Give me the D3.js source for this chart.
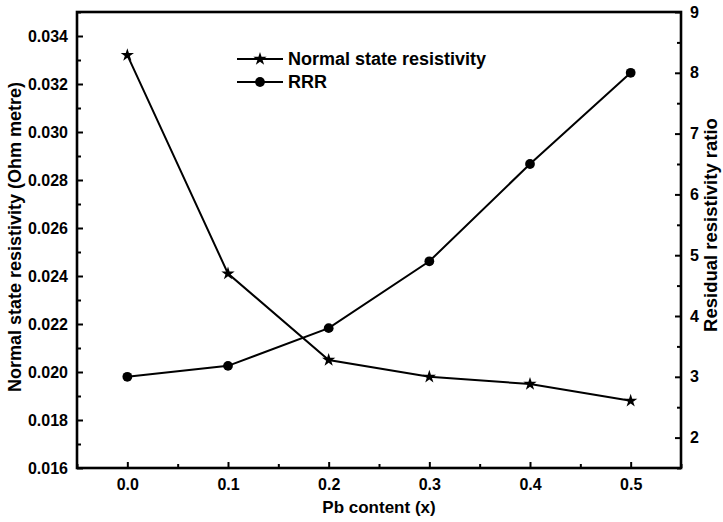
<!DOCTYPE html>
<html>
<head>
<meta charset="utf-8">
<script src="https://cdn.jsdelivr.net/npm/d3@7/dist/d3.min.js"></script>
<style>
  html, body { margin: 0; padding: 0; background: #fff; }
  svg text { font-family: "Liberation Sans", Arial, sans-serif; font-weight: bold; fill: #000; }
</style>
</head>
<body>
<svg id="chart" width="723" height="522"></svg>
<script>
// Pb content (x) and the two measured quantities
const pbContent = [0.0, 0.1, 0.2, 0.3, 0.4, 0.5];
const resistivity = [0.0332, 0.0241, 0.0205, 0.0198, 0.0195, 0.0188];   // Ohm metre
const rrr = [3.0, 3.18, 3.8, 4.9, 6.5, 8.0];                              // residual resistivity ratio

const xTicks = [0.0, 0.1, 0.2, 0.3, 0.4, 0.5];
const leftTicks = [0.016, 0.018, 0.020, 0.022, 0.024, 0.026, 0.028, 0.030, 0.032, 0.034];
const rightTicks = [2, 3, 4, 5, 6, 7, 8, 9];

const seriesNames = ["Normal state resistivity", "RRR"];

const svg = d3.select("#chart");
const m = { left: 77, right: 681, top: 12, bottom: 468 };

const x = d3.scaleLinear().domain([-0.05, 0.55]).range([m.left, m.right]);
const yL = d3.scaleLinear().domain([0.016, 0.035]).range([m.bottom, m.top]);
const yR = d3.scaleLinear().domain([1.5, 9]).range([m.bottom, m.top]);

// minor tick positions halfway between labelled ticks
const xMinor = d3.range(-0.05, 0.551, 0.05).map(v => +v.toFixed(3)).filter(v => !xTicks.some(t => Math.abs(t - v) < 1e-6));
const lMinor = d3.range(0.017, 0.0351, 0.002).map(v => +v.toFixed(4));
const rMinor = d3.range(1.5, 9, 1).map(v => +v.toFixed(2));

function styleAxis(g) {
  g.select(".domain").remove();
  g.selectAll(".tick line").attr("stroke", "#000").attr("stroke-width", 2);
  g.selectAll(".tick text").style("font-size", "16px");
}

// bottom axis: ticks point into the plot
svg.append("g").attr("transform", `translate(0,${m.bottom})`)
  .call(d3.axisBottom(x).tickValues(xTicks).tickFormat(d3.format(".1f")).tickSizeInner(-6).tickSizeOuter(0).tickPadding(11))
  .call(styleAxis);
svg.append("g").attr("transform", `translate(0,${m.bottom})`)
  .call(d3.axisBottom(x).tickValues(xMinor).tickFormat("").tickSizeInner(-4).tickSizeOuter(0))
  .call(styleAxis);

// left axis
svg.append("g").attr("transform", `translate(${m.left},0)`)
  .call(d3.axisLeft(yL).tickValues(leftTicks).tickFormat(d3.format(".3f")).tickSizeInner(-6).tickSizeOuter(0).tickPadding(9))
  .call(styleAxis);
svg.append("g").attr("transform", `translate(${m.left},0)`)
  .call(d3.axisLeft(yL).tickValues(lMinor).tickFormat("").tickSizeInner(-4).tickSizeOuter(0))
  .call(styleAxis);

// right axis
svg.append("g").attr("transform", `translate(${m.right},0)`)
  .call(d3.axisRight(yR).tickValues(rightTicks).tickFormat(d3.format("d")).tickSizeInner(-6).tickSizeOuter(0).tickPadding(9))
  .call(styleAxis);
svg.append("g").attr("transform", `translate(${m.right},0)`)
  .call(d3.axisRight(yR).tickValues(rMinor).tickFormat("").tickSizeInner(-4).tickSizeOuter(0))
  .call(styleAxis);

// plot frame
svg.append("rect")
  .attr("x", m.left).attr("y", m.top)
  .attr("width", m.right - m.left).attr("height", m.bottom - m.top)
  .attr("fill", "none").attr("stroke", "#000").attr("stroke-width", 2.6);

// axis titles
svg.append("text").attr("x", (m.left + m.right) / 2).attr("y", 513)
  .attr("text-anchor", "middle").style("font-size", "17px").text("Pb content (x)");
svg.append("text").attr("transform", `translate(21,237) rotate(-90)`)
  .attr("text-anchor", "middle").style("font-size", "18px").text("Normal state resistivity (Ohm metre)");
svg.append("text").attr("transform", `translate(717,225) rotate(-90)`)
  .attr("text-anchor", "middle").style("font-size", "18.5px").text("Residual resistivity ratio");

const star = d3.symbol().type(d3.symbolStar).size(55);
const dot = d3.symbol().type(d3.symbolCircle).size(75);

// resistivity series (left axis)
const resData = pbContent.map((p, i) => [p, resistivity[i]]);
svg.append("path").datum(resData)
  .attr("fill", "none").attr("stroke", "#000").attr("stroke-width", 2)
  .attr("d", d3.line().x(d => x(d[0])).y(d => yL(d[1])));
svg.selectAll(".star").data(resData).join("path")
  .attr("transform", d => `translate(${x(d[0])},${yL(d[1])})`)
  .attr("d", star).attr("fill", "#000");

// RRR series (right axis)
const rrrData = pbContent.map((p, i) => [p, rrr[i]]);
svg.append("path").datum(rrrData)
  .attr("fill", "none").attr("stroke", "#000").attr("stroke-width", 2)
  .attr("d", d3.line().x(d => x(d[0])).y(d => yR(d[1])));
svg.selectAll(".dot").data(rrrData).join("path")
  .attr("transform", d => `translate(${x(d[0])},${yR(d[1])})`)
  .attr("d", dot).attr("fill", "#000");

// legend
const legend = svg.append("g");
const symbols = [star, dot];
seriesNames.forEach((name, i) => {
  const ly = 59 + i * 23;
  legend.append("line").attr("x1", 237).attr("x2", 283).attr("y1", ly).attr("y2", ly)
    .attr("stroke", "#000").attr("stroke-width", 2);
  legend.append("path").attr("transform", `translate(260,${ly})`).attr("d", symbols[i]).attr("fill", "#000");
  legend.append("text").attr("x", 288).attr("y", ly + 6).style("font-size", "18px").text(name);
});
</script>
</body>
</html>
